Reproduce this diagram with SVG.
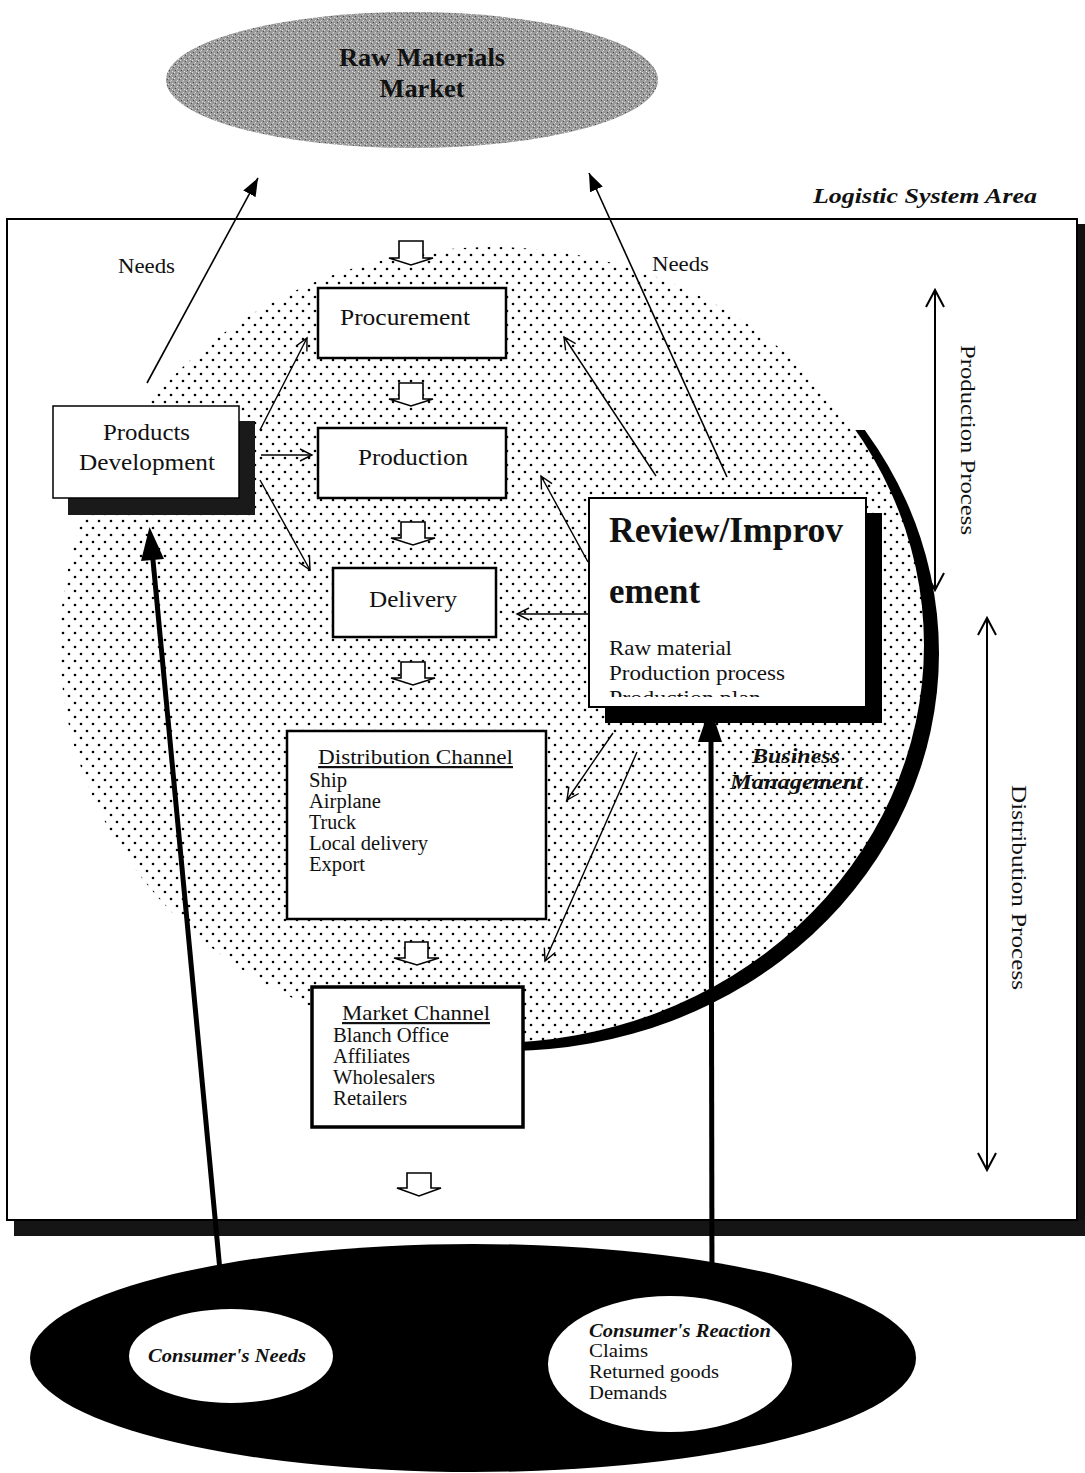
<svg xmlns="http://www.w3.org/2000/svg" width="1085" height="1473" viewBox="0 0 1085 1473">
<defs>
<style>
text{font-family:"Liberation Serif","Times New Roman",serif;fill:#111}
.box{fill:#fff;stroke:#000;stroke-width:2.5}
.lbl{font-size:23px}
.item{font-size:20.5px}
.ln{stroke:#000;stroke-width:1.4;fill:none}
.hollow{fill:#fff;stroke:#000;stroke-width:1.6;stroke-linejoin:miter}
.bi{font-style:italic;font-weight:bold}
</style>
<pattern id="dots" width="12" height="14" patternUnits="userSpaceOnUse">
<rect width="12" height="14" fill="#fff"/>
<circle cx="3" cy="3" r="1.3" fill="#000"/>
<circle cx="9" cy="10" r="1.3" fill="#000"/>
</pattern>
<pattern id="gray" width="6" height="6" patternUnits="userSpaceOnUse">
<rect width="6" height="6" fill="#9a9a9a"/>
<rect x="0" y="0" width="1" height="1" fill="#e0e0e0"/>
<rect x="3" y="2" width="1" height="1" fill="#d8d8d8"/>
<rect x="1" y="4" width="1" height="1" fill="#444"/>
<rect x="4" y="5" width="1" height="1" fill="#e6e6e6"/>
<rect x="5" y="1" width="1" height="1" fill="#555"/>
<rect x="2" y="3" width="1" height="1" fill="#c8c8c8"/>
</pattern>
<marker id="open" markerUnits="userSpaceOnUse" markerWidth="16" markerHeight="16" refX="13" refY="8" orient="auto">
<path d="M1,2 L13,8 L1,14" fill="none" stroke="#000" stroke-width="1.4"/>
</marker>
<marker id="open2" markerUnits="userSpaceOnUse" markerWidth="22" markerHeight="22" refX="18" refY="11" orient="auto-start-reverse">
<path d="M1,2 L18,11 L1,20" fill="none" stroke="#000" stroke-width="2"/>
</marker>
<marker id="solid" markerUnits="userSpaceOnUse" markerWidth="20" markerHeight="14" refX="18" refY="7" orient="auto">
<path d="M0,0 L18,7 L0,14 z" fill="#000"/>
</marker>
<clipPath id="rightHalf"><path d="M835,430 L1100,430 L1100,1100 L515,1100 L515,1000 Z"/></clipPath>
<clipPath id="revClip"><rect x="590" y="499" width="274" height="198"/></clipPath>
</defs>

<rect width="1085" height="1473" fill="#fff"/>

<g id="raw-materials-market">
<ellipse cx="412" cy="80" rx="246" ry="68" fill="url(#gray)"/>
<text x="422" y="66" text-anchor="middle" font-size="25" font-weight="bold" fill="#111" textLength="166" lengthAdjust="spacingAndGlyphs">Raw Materials</text>
<text x="422" y="97" text-anchor="middle" font-size="25" font-weight="bold" fill="#111" textLength="85" lengthAdjust="spacingAndGlyphs">Market</text>
</g>

<g id="logistic-system-area">
<rect x="1077" y="224" width="8" height="1010" fill="#111"/>
<rect x="14" y="1220" width="1071" height="16" fill="#151515"/>
<rect x="7" y="219" width="1070" height="1001" fill="#fff" stroke="#000" stroke-width="2"/>
<text x="813" y="203" font-size="22" class="bi" textLength="224" lengthAdjust="spacingAndGlyphs">Logistic System Area</text>
</g>

<g id="business-management">
<ellipse cx="507" cy="653" rx="432" ry="398" fill="#000" clip-path="url(#rightHalf)"/>
<ellipse cx="492" cy="645" rx="432" ry="398" fill="url(#dots)"/>
<text x="752" y="763" font-size="22" class="bi" textLength="88" lengthAdjust="spacingAndGlyphs">Business</text>
<text x="730" y="789" font-size="21" class="bi" textLength="133" lengthAdjust="spacingAndGlyphs">Management</text>
</g>

<g id="flow-arrows">
<path class="hollow" d="M399,241 h24 v17 h10 l-22,7 l-22,-7 h10 z"/>
<path class="hollow" d="M399,383 h24 v16 h10 l-22,7 l-22,-7 h10 z"/>
<path class="hollow" d="M401,522 h24 v16 h10 l-22,7 l-22,-7 h10 z"/>
<path class="hollow" d="M401,662 h24 v16 h10 l-22,7 l-22,-7 h10 z"/>
<path class="hollow" d="M405,942 h23 v16 h11 l-22,7 l-23,-7 h11 z"/>
<path class="hollow" d="M407,1173 h24 v15 h10 l-22,8 l-22,-8 h10 z"/>
</g>

<g id="procurement">
<rect class="box" x="318" y="288" width="188" height="70"/>
<text class="lbl" x="340" y="325" textLength="130" lengthAdjust="spacingAndGlyphs">Procurement</text>
</g>

<g id="production">
<rect class="box" x="318" y="428" width="188" height="70"/>
<text class="lbl" x="358" y="465" textLength="110" lengthAdjust="spacingAndGlyphs">Production</text>
</g>

<g id="delivery">
<rect class="box" x="333" y="568" width="163" height="69"/>
<text class="lbl" x="369" y="607" textLength="88" lengthAdjust="spacingAndGlyphs">Delivery</text>
</g>

<g id="products-development">
<rect x="68" y="421" width="187" height="94" fill="#1a1a1a"/>
<rect x="53" y="406" width="186" height="92" fill="#fff" stroke="#000" stroke-width="1.5"/>
<text class="lbl" x="103" y="440" textLength="87" lengthAdjust="spacingAndGlyphs">Products</text>
<text class="lbl" x="79" y="470" textLength="136" lengthAdjust="spacingAndGlyphs">Development</text>
</g>

<g id="review-improvement">
<rect x="605" y="513" width="277" height="210" fill="#000"/>
<rect x="589" y="498" width="277" height="209" fill="#fff" stroke="#000" stroke-width="2"/>
<g clip-path="url(#revClip)">
<text x="609" y="542" font-size="36" font-weight="bold" textLength="234" lengthAdjust="spacingAndGlyphs">Review/Improv</text>
<text x="609" y="603" font-size="36" font-weight="bold" textLength="91" lengthAdjust="spacingAndGlyphs">ement</text>
<text x="609" y="655" font-size="22" textLength="123" lengthAdjust="spacingAndGlyphs">Raw material</text>
<text x="609" y="680" font-size="22" textLength="176" lengthAdjust="spacingAndGlyphs">Production process</text>
<text x="609" y="705" font-size="22" textLength="152" lengthAdjust="spacingAndGlyphs">Production plan</text>
</g>
</g>

<g id="distribution-channel">
<rect class="box" x="287" y="731" width="259" height="188"/>
<text x="318" y="764" font-size="22" text-decoration="underline" textLength="195" lengthAdjust="spacingAndGlyphs">Distribution Channel</text>
<text class="item" x="309" y="787" textLength="38" lengthAdjust="spacingAndGlyphs">Ship</text>
<text class="item" x="309" y="808" textLength="72" lengthAdjust="spacingAndGlyphs">Airplane</text>
<text class="item" x="309" y="829" textLength="47" lengthAdjust="spacingAndGlyphs">Truck</text>
<text class="item" x="309" y="850" textLength="119" lengthAdjust="spacingAndGlyphs">Local delivery</text>
<text class="item" x="309" y="871" textLength="56" lengthAdjust="spacingAndGlyphs">Export</text>
</g>

<g id="market-channel">
<rect x="312" y="987" width="211" height="140" fill="#fff" stroke="#000" stroke-width="3.5"/>
<text x="342" y="1020" font-size="22" text-decoration="underline" textLength="148" lengthAdjust="spacingAndGlyphs">Market Channel</text>
<text class="item" x="333" y="1042" textLength="116" lengthAdjust="spacingAndGlyphs">Blanch Office</text>
<text class="item" x="333" y="1063" textLength="77" lengthAdjust="spacingAndGlyphs">Affiliates</text>
<text class="item" x="333" y="1084" textLength="102" lengthAdjust="spacingAndGlyphs">Wholesalers</text>
<text class="item" x="333" y="1105" textLength="74" lengthAdjust="spacingAndGlyphs">Retailers</text>
</g>

<g id="process-ranges">
<line x1="935" y1="290" x2="935" y2="590" stroke="#000" stroke-width="2" marker-start="url(#open2)" marker-end="url(#open2)"/>
<text x="961" y="345" font-size="21" transform="rotate(90 961 345)" textLength="190" lengthAdjust="spacingAndGlyphs">Production Process</text>
<line x1="987" y1="618" x2="987" y2="1170" stroke="#000" stroke-width="2" marker-start="url(#open2)" marker-end="url(#open2)"/>
<text x="1012" y="785" font-size="21" transform="rotate(90 1012 785)" textLength="205" lengthAdjust="spacingAndGlyphs">Distribution Process</text>
</g>

<g id="connectors">
<line x1="147" y1="383" x2="258" y2="178" stroke="#000" stroke-width="1.6" marker-end="url(#solid)"/>
<line x1="727" y1="477" x2="589" y2="173" stroke="#000" stroke-width="1.6" marker-end="url(#solid)"/>
<text x="118" y="273" font-size="20" textLength="57" lengthAdjust="spacingAndGlyphs">Needs</text>
<text x="652" y="271" font-size="20" textLength="57" lengthAdjust="spacingAndGlyphs">Needs</text>
<line class="ln" x1="260" y1="430" x2="307" y2="338" marker-end="url(#open)"/>
<line class="ln" x1="261" y1="455" x2="312" y2="455" marker-end="url(#open)"/>
<line class="ln" x1="260" y1="480" x2="310" y2="570" marker-end="url(#open)"/>
<line class="ln" x1="656" y1="476" x2="564" y2="337" marker-end="url(#open)"/>
<line class="ln" x1="588" y1="562" x2="541" y2="476" marker-end="url(#open)"/>
<line class="ln" x1="588" y1="614" x2="517" y2="614" marker-end="url(#open)"/>
<line class="ln" x1="613" y1="733" x2="567" y2="800" marker-end="url(#open)"/>
<line class="ln" x1="637" y1="752" x2="545" y2="961" marker-end="url(#open)"/>
</g>

<g id="consumer">
<ellipse cx="473" cy="1358" rx="443" ry="114" fill="#000"/>
<ellipse cx="231" cy="1356" rx="102" ry="47" fill="#fff"/>
<ellipse cx="670" cy="1364" rx="122" ry="68" fill="#fff"/>
<text x="148" y="1362" font-size="19" class="bi" textLength="158" lengthAdjust="spacingAndGlyphs">Consumer's Needs</text>
<text x="589" y="1337" font-size="19" class="bi" textLength="182" lengthAdjust="spacingAndGlyphs">Consumer's Reaction</text>
<text x="589" y="1357" font-size="19" textLength="59" lengthAdjust="spacingAndGlyphs">Claims</text>
<text x="589" y="1378" font-size="19" textLength="130" lengthAdjust="spacingAndGlyphs">Returned goods</text>
<text x="589" y="1399" font-size="19" textLength="78" lengthAdjust="spacingAndGlyphs">Demands</text>
</g>

<g id="feedback-arrows">
<line x1="222" y1="1292" x2="152.6" y2="556" stroke="#000" stroke-width="5"/>
<polygon points="149.5,527 164,559 141,561" fill="#000"/>
<line x1="712" y1="1288" x2="711" y2="738" stroke="#000" stroke-width="5"/>
<polygon points="710,707 722,742 698,742" fill="#000"/>
</g>
</svg>
